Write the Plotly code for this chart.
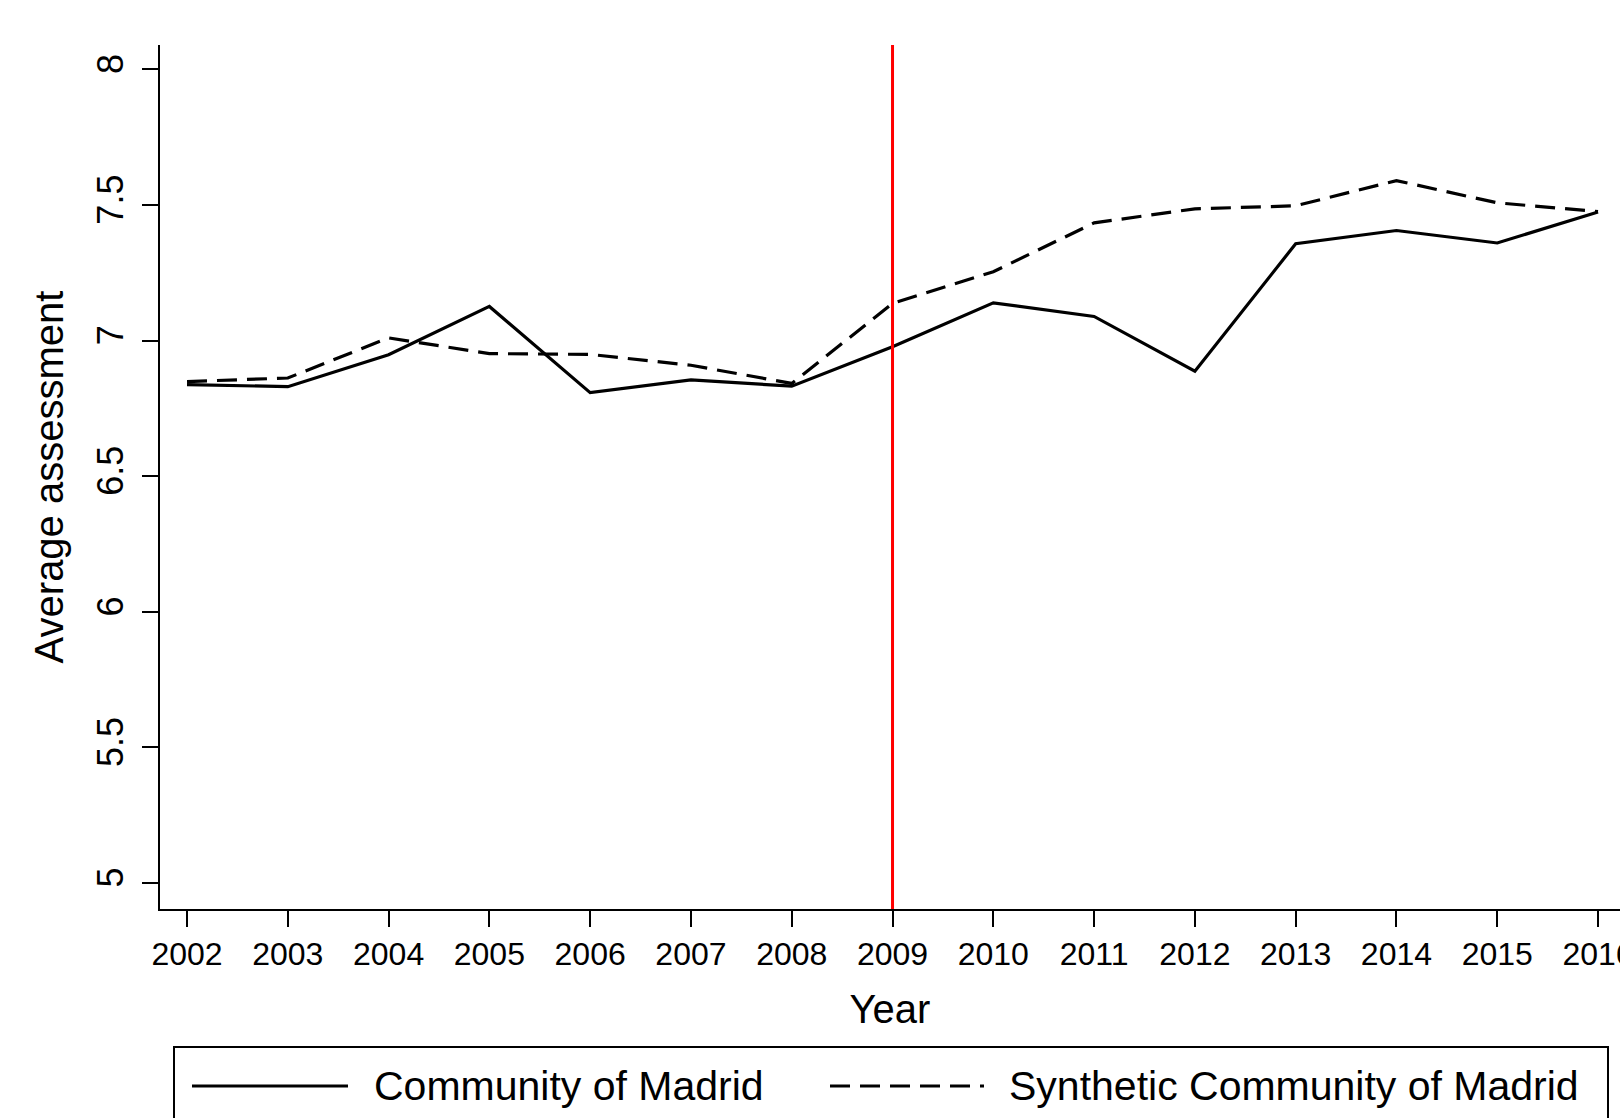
import plotly.graph_objects as go

# Average assessment by year: observed region vs. synthetic control
years = list(range(2002, 2017))
madrid = [6.838, 6.830, 6.948, 7.126, 6.808, 6.855, 6.832, 6.977,
          7.139, 7.089, 6.887, 7.357, 7.406, 7.360, 7.474]
synthetic = [6.849, 6.862, 7.010, 6.952, 6.949, 6.909, 6.842, 7.137,
             7.254, 7.434, 7.486, 7.497, 7.590, 7.508, 7.476]
treatment_year = 2009

series_names = ["Community of Madrid", "Synthetic Community of Madrid"]
y_ticks = [5, 5.5, 6, 6.5, 7, 7.5, 8]
y_tick_labels = ["5", "5.5", "6", "6.5", "7", "7.5", "8"]

W, H = 1620, 1118
L, R, T, B = 160, 0, 45, 209
FONT = "Liberation Sans, Arial, sans-serif"
DASH = "20px,10px"


def px_x(px):
    return (px - L) / (W - L - R)


def px_y(py):
    return (H - B - py) / (H - B - T)


fig = go.Figure()
fig.add_trace(go.Scatter(x=years, y=madrid, mode="lines", name=series_names[0],
                         line=dict(color="black", width=3.2), showlegend=False))
fig.add_trace(go.Scatter(x=years, y=synthetic, mode="lines", name=series_names[1],
                         line=dict(color="black", width=3.2, dash=DASH), showlegend=False))

# treatment marker
fig.add_shape(type="line", xref="x", yref="paper", x0=treatment_year, x1=treatment_year,
              y0=0, y1=1, line=dict(color="#ff0000", width=3), layer="above")

# legend box drawn below the plot
fig.add_shape(type="rect", xref="paper", yref="paper",
              x0=px_x(174), x1=px_x(1608), y0=px_y(1140), y1=px_y(1047),
              line=dict(color="black", width=2), fillcolor="white")
legend_items = [
    (192, 348, 372, series_names[0], None),
    (830, 984, 1007, series_names[1], DASH),
]
for x0, x1, tx, label, dash in legend_items:
    line_style = dict(color="black", width=3.2)
    if dash:
        line_style["dash"] = DASH
    fig.add_shape(type="line", xref="paper", yref="paper",
                  x0=px_x(x0), x1=px_x(x1), y0=px_y(1086), y1=px_y(1086),
                  line=line_style)
    fig.add_annotation(xref="paper", yref="paper", x=px_x(tx), y=px_y(1086),
                       xanchor="left", yanchor="middle", showarrow=False,
                       text=label, font=dict(family=FONT, size=41, color="black"))

fig.update_layout(
    width=W, height=H,
    margin=dict(l=L, r=R, t=T, b=B, autoexpand=False),
    paper_bgcolor="white", plot_bgcolor="white",
    font=dict(family=FONT, color="black"),
    showlegend=False,
)
fig.update_xaxes(
    range=[2001.732, 2016.218], tickmode="array", tickvals=years,
    ticktext=[str(y) for y in years], ticklabeloverflow="allow", automargin=False,
    showgrid=False, zeroline=False, showline=True, linecolor="black", linewidth=2,
    ticks="outside", ticklen=16, tickwidth=2, tickcolor="black",
    tickfont=dict(size=32, family=FONT),
    title=dict(text="Year", font=dict(size=40, family=FONT), standoff=24),
)
fig.update_yaxes(
    range=[4.904, 8.09], tickmode="array", tickvals=y_ticks, ticktext=y_tick_labels,
    tickangle=-90, ticklabelstandoff=5, automargin=False,
    showgrid=False, zeroline=False, showline=True, linecolor="black", linewidth=2,
    ticks="outside", ticklen=16, tickwidth=2, tickcolor="black",
    tickfont=dict(size=36, family=FONT),
    title=dict(text="Average assessment", font=dict(size=40, family=FONT), standoff=14),
)

fig.write_html("out.html")
